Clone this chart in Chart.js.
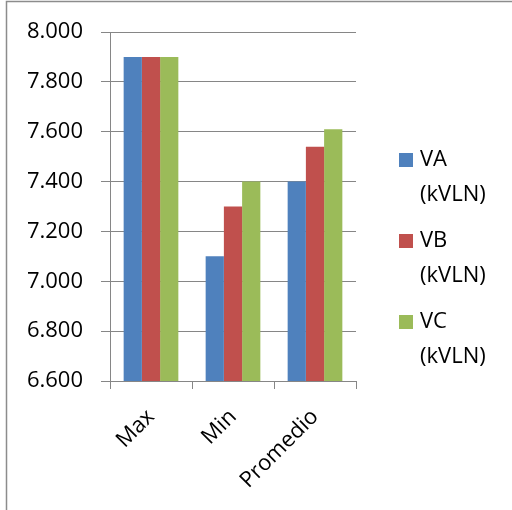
<!DOCTYPE html>
<html>
<head>
<meta charset="utf-8">
<script src="https://cdn.jsdelivr.net/npm/chart.js@4/dist/chart.umd.min.js"></script>
<style>
  html, body { margin: 0; padding: 0; background: #fff; }
  #wrap { width: 512px; height: 510px; position: relative; }
</style>
</head>
<body>
<div id="wrap"><canvas id="c" width="512" height="510"></canvas></div>
<script>
// Voltage summary per phase (kV line-to-neutral)
const categories = ['Max', 'Min', 'Promedio'];
const seriesNames = [['VA', '(kVLN)'], ['VB', '(kVLN)'], ['VC', '(kVLN)']];
const vaValues = [7.9, 7.1, 7.4];
const vbValues = [7.9, 7.3, 7.54];
const vcValues = [7.9, 7.4, 7.61];
const yMin = 6.6, yMax = 8.0, yStep = 0.2;

const colors = ['#4F81BD', '#C0504D', '#9BBB59'];
const FONT = '"Open Sans", "Liberation Sans", sans-serif';
const FONT_SIZE = 22;
const AXIS = '#868686';

// Spanish-style number format with three decimals: 7.800
const fmt = v => v.toFixed(3);

// Frame lines and white background
const frame = {
  id: 'frame',
  beforeDraw(chart) {
    const ctx = chart.ctx;
    ctx.save();
    ctx.fillStyle = '#fff';
    ctx.fillRect(0, 0, chart.width, chart.height);
    ctx.strokeStyle = '#8c8c8c';
    ctx.lineWidth = 1.5;
    ctx.beginPath();
    ctx.moveTo(6.5, chart.height);
    ctx.lineTo(6.5, 1.5);
    ctx.lineTo(chart.width, 1.5);
    ctx.stroke();
    ctx.restore();
  }
};

// Legend on the right with wrapped two-line labels
const sideLegend = {
  id: 'sideLegend',
  afterDraw(chart) {
    const ctx = chart.ctx;
    ctx.save();
    ctx.font = FONT_SIZE + 'px ' + FONT;
    ctx.textBaseline = 'middle';
    ctx.fillStyle = '#000';
    const x0 = 399, box = 14, tx = 420;
    const startY = 160, entryGap = 81, lineGap = 35;
    chart.data.datasets.forEach((ds, i) => {
      const y = startY + i * entryGap;
      ctx.fillStyle = ds.backgroundColor;
      ctx.fillRect(x0, y - box / 2, box, box);
      ctx.fillStyle = '#000';
      ds.legendLines.forEach((t, j) => ctx.fillText(t, tx, y + j * lineGap));
    });
    ctx.restore();
  }
};

const datasets = [vaValues, vbValues, vcValues].map((vals, i) => ({
  label: seriesNames[i].join(' '),
  legendLines: seriesNames[i],
  data: vals,
  backgroundColor: colors[i],
  borderWidth: 0,
  categoryPercentage: 0.667,
  barPercentage: 1.0
}));

new Chart(document.getElementById('c'), {
  type: 'bar',
  data: { labels: categories, datasets },
  options: {
    responsive: false,
    animation: false,
    layout: { padding: { left: 0, right: 156, top: 32, bottom: 0 } },
    plugins: { legend: { display: false }, tooltip: { enabled: false } },
    scales: {
      y: {
        min: yMin,
        max: yMax,
        ticks: {
          stepSize: yStep,
          callback: v => fmt(v),
          font: { family: FONT, size: FONT_SIZE },
          color: '#000',
          padding: 18
        },
        grid: { color: AXIS, lineWidth: 1, tickLength: 9, drawTicks: true },
        border: { color: AXIS, width: 1 },
        afterFit: s => { s.width = 110; }
      },
      x: {
        ticks: {
          font: { family: FONT, size: FONT_SIZE },
          color: '#000',
          minRotation: 45,
          maxRotation: 45,
          padding: 15
        },
        grid: { offset: true, drawOnChartArea: false, color: AXIS, tickLength: 8 },
        border: { color: AXIS, width: 1 },
        afterFit: s => { s.height = 129; }
      }
    }
  },
  plugins: [frame, sideLegend]
});
</script>
</body>
</html>
